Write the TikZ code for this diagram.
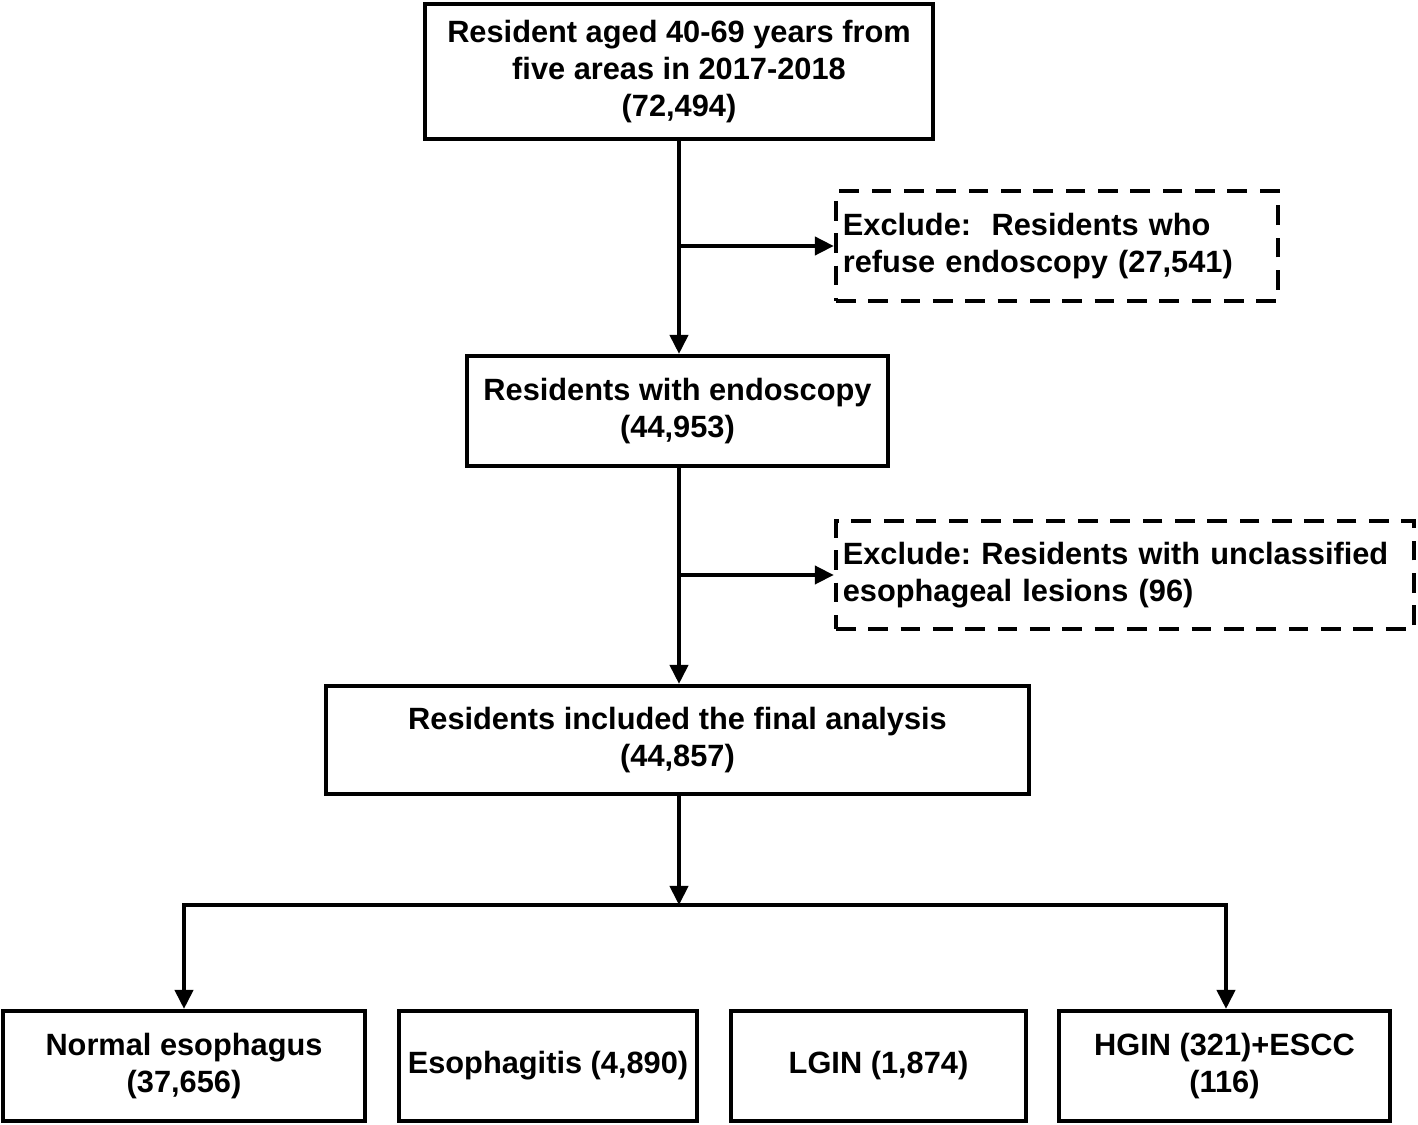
\documentclass[tikz,border=0pt]{standalone}
\usepackage{fontspec}
\setmainfont{Liberation Sans}
\usetikzlibrary{arrows.meta}
\frenchspacing

\begin{document}
\begin{tikzpicture}[x=0.01cm,y=-0.01cm,
    every node/.style={font=\bfseries\fontsize{8.75}{10.6}\selectfont, inner sep=0pt},
    box/.style={draw, line width=1.15pt, align=center},
    exclbox/.style={draw, line width=1.15pt, dash pattern=on 5.6pt off 3.6pt, align=left},
    arrow/.style={line width=1.15pt, -{Triangle[length=0.19cm,width=0.18cm]}}]
                    \useasboundingbox (0,0) rectangle (1418,1125);
                    \node[box, minimum width=5.08cm, minimum height=1.35cm] (pop) at (679,71.5) {Resident aged 40-69 years from\\five areas in 2017-2018\\(72,494)};
                    \node[exclbox, minimum width=4.42cm, minimum height=1.09cm, text width=4.28cm] (refuse) at (1057,246) {Exclude:\ \ Residents who\\refuse endoscopy (27,541)};
                    \node[box, minimum width=4.21cm, minimum height=1.10cm] (endo) at (677.5,411) {Residents with endoscopy\\(44,953)};
                    \node[exclbox, minimum width=5.78cm, minimum height=1.08cm, text width=5.64cm] (uncl) at (1125,575) {Exclude: Residents with unclassified\\esophageal lesions (96)};
                    \node[box, minimum width=7.03cm, minimum height=1.08cm] (final) at (677.5,740) {Residents included the final analysis\\(44,857)};
                    \node[box, minimum width=3.62cm, minimum height=1.10cm] (normal) at (184,1066) {Normal esophagus\\(37,656)};
                    \node[box, minimum width=2.98cm, minimum height=1.10cm] (esoph) at (548,1066) {Esophagitis (4,890)};
                    \node[box, minimum width=2.95cm, minimum height=1.10cm] (lgin) at (878.5,1066) {LGIN (1,874)};
                    \node[box, minimum width=3.31cm, minimum height=1.10cm] (hgin) at (1224.5,1066) {HGIN (321)+ESCC\\(116)};
                    \coordinate (split) at (679,905);
                    \coordinate (splitL) at (184,905);
                    \coordinate (splitR) at (1226,905);
                    \draw[arrow] (pop.south) -- (pop.south |- endo.north);
                    \draw[arrow] (pop.south |- refuse.west) -- (refuse.west);
                    \draw[arrow] (pop.south |- endo.south) -- (pop.south |- final.north);
                    \draw[arrow] (pop.south |- uncl.west) -- (uncl.west);
                    \draw[arrow] (pop.south |- final.south) -- (split);
                    \draw[line width=1.15pt, line cap=rect] (splitL) -- (splitR);
                    \draw[arrow] (splitL) -- (splitL |- normal.north);
                    \draw[arrow] (splitR) -- (splitR |- hgin.north);
                \end{tikzpicture}
\end{document}
